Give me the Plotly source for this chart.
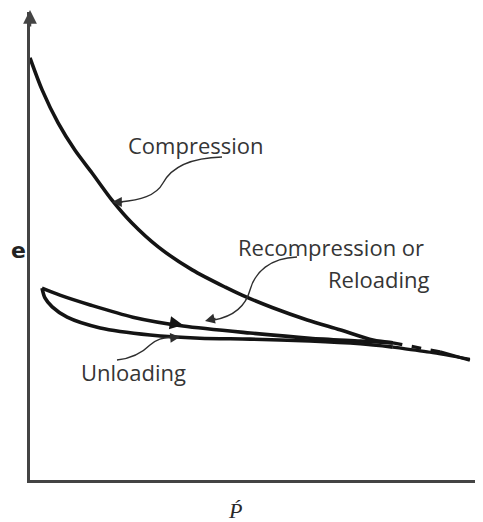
import plotly.graph_objects as go

# ---------------- data (schematic e - log P' curve) ----------------
compression_p = [0.00, 0.27, 0.62, 0.99, 1.37, 1.81, 2.25, 2.83, 3.58, 4.31, 4.68, 5.36, 6.12, 6.84, 7.57, 8.01]
compression_e = [0.902, 0.833, 0.763, 0.705, 0.656, 0.598, 0.549, 0.498, 0.449, 0.412, 0.395, 0.368, 0.342, 0.321, 0.299, 0.293]

extension_dash_p = [8.01, 9.05]
extension_dash_e = [0.293, 0.274]
extension_solid_p = [9.05, 9.71]
extension_solid_e = [0.274, 0.256]

reloading_p = [0.265, 0.66, 1.33, 2.27, 3.38, 4.86, 6.18, 7.29, 8.01]
reloading_e = [0.410, 0.395, 0.374, 0.348, 0.329, 0.314, 0.303, 0.297, 0.293]

unloading_p = [8.01, 7.29, 6.18, 4.86, 3.75, 2.65, 1.55, 0.82, 0.49, 0.33, 0.265]
unloading_e = [0.284, 0.291, 0.297, 0.301, 0.303, 0.310, 0.325, 0.348, 0.370, 0.389, 0.410]

tail_p = [8.01, 8.83, 9.71]
tail_e = [0.284, 0.273, 0.258]

labels = {
    "compression": "Compression",
    "recompression": "Recompression or",
    "reloading": "Reloading",
    "unloading": "Unloading",
    "y": "e",
    "x": "Ṕ",
}

# ---------------- geometry helpers (layout only) ----------------
# The page body has an 8px default margin, so the figure is offset by 8px.
OFF = 8
WIN_W, WIN_H = 483, 522
W, H = WIN_W - OFF, WIN_H - OFF          # figure size
PL, PT, PB = 30, 12, 480                 # plot area edges in window pixels
L, T = PL - OFF, PT - OFF
B = H - (PB - OFF)
R = 0
X_RANGE = [0, 10]
Y_RANGE = [0, 1]
PW = W - L - R
PH = H - T - B


def dx(px):
    return X_RANGE[0] + (px - PL) / PW * (X_RANGE[1] - X_RANGE[0])


def dy(py):
    return Y_RANGE[0] + (PB - py) / PH * (Y_RANGE[1] - Y_RANGE[0])


def path(*segs):
    out = []
    for s in segs:
        cmd, pts = s[0], s[1:]
        out.append(cmd + " " + " ".join(f"{dx(x):.4f},{dy(y):.4f}" for x, y in pts))
    return " ".join(out)


MAIN = "#141414"
THIN = "#2e2e2e"
TEXT = "#353535"
LW = 3.6

fig = go.Figure()


def curve(p, e, dash="solid", width=LW):
    fig.add_trace(go.Scatter(x=p, y=e, mode="lines", cliponaxis=False,
                             line=dict(color=MAIN, width=width, dash=dash, shape="spline", smoothing=0.8),
                             hoverinfo="skip", showlegend=False))


curve(compression_p, compression_e)
curve(extension_dash_p, extension_dash_e, dash="dash", width=3.2)
curve(extension_solid_p, extension_solid_e, width=3.2)
curve(reloading_p, reloading_e)
curve(unloading_p, unloading_e)
curve(tail_p, tail_e, width=3.2)

shapes = [
    # Compression leader
    dict(type="path", xref="x", yref="y",
         path=path(("M", (222, 157)), ("C", (186, 158), (170, 170), (163, 183)),
                   ("C", (156, 196), (140, 200), (120, 202))),
         line=dict(color=THIN, width=1.4)),
    # Recompression leader
    dict(type="path", xref="x", yref="y",
         path=path(("M", (297, 257)), ("C", (270, 258), (255, 272), (250, 290)),
                   ("C", (246, 305), (235, 316), (214, 320))),
         line=dict(color=THIN, width=1.4)),
    # Unloading leader
    dict(type="path", xref="x", yref="y",
         path=path(("M", (117, 360)), ("C", (135, 358), (145, 350), (150, 345)),
                   ("C", (157, 339), (162, 338), (172, 337))),
         line=dict(color=THIN, width=1.4)),
]

annotations = []


def arrow(px, py, ax, ay, size=1.3, width=1.4, color=THIN):
    annotations.append(dict(x=(px - PL) / PW, y=(PB - py) / PH, xref="paper", yref="paper",
                            ax=ax, ay=ay,
                            text="", showarrow=True, arrowhead=2, arrowsize=size,
                            arrowwidth=width, arrowcolor=color, standoff=0, startstandoff=0))


arrow(112, 202, 12, 0, size=1.4)
arrow(205, 321, 12, -3, size=1.4)
arrow(180, 337, -12, 1, size=1.4)
arrow(183, 325, -12, -2, size=1.2, width=2.2, color=MAIN)
# y-axis arrow
arrow(30, 10, 0, 18, size=1.1, width=2.5, color="#444")


def label(txt, px, py, size=22, color=TEXT, family="Open Sans, Noto Sans, sans-serif", **kw):
    annotations.append(dict(x=(px - PL) / PW, y=(PB - py) / PH, xref="paper", yref="paper",
                            text=txt, showarrow=False,
                            xanchor="center", yanchor="middle",
                            font=dict(size=size, color=color, family=family), **kw))


label(labels["compression"], 196, 145)
label(labels["recompression"], 331, 247)
label(labels["reloading"], 378, 279)
label(labels["unloading"], 133, 372)
label("<b>" + labels["y"] + "</b>", 18, 251, size=22, color="#222", family="DejaVu Sans, sans-serif")
label("<i>" + labels["x"] + "</i>", 235, 510, size=22, color="#2a2a2a", family="Liberation Serif, DejaVu Serif, serif")

fig.update_layout(
    width=W, height=H,
    margin=dict(l=L, r=R, t=T, b=B, pad=0),
    paper_bgcolor="white", plot_bgcolor="white",
    xaxis=dict(range=X_RANGE, showgrid=False, zeroline=False, showticklabels=False, ticks="",
               showline=True, linecolor="#444", linewidth=2.5, fixedrange=True),
    yaxis=dict(range=Y_RANGE, showgrid=False, zeroline=False, showticklabels=False, ticks="",
               showline=True, linecolor="#444", linewidth=2.5, fixedrange=True),
    shapes=shapes,
    annotations=annotations,
    showlegend=False,
)

fig.write_html("out.html")
